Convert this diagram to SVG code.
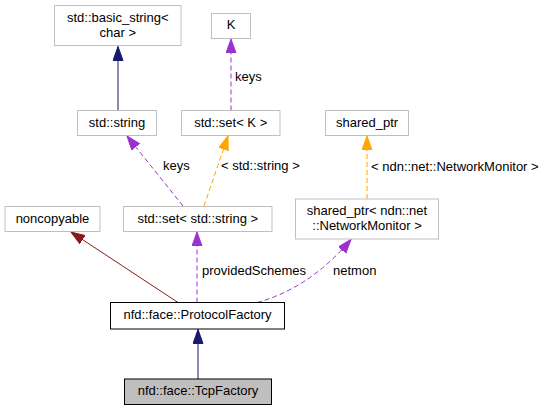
<svg xmlns="http://www.w3.org/2000/svg" width="549" height="411" viewBox="0 0 549 411">
<style>
text{font-family:"Liberation Sans",Arial,sans-serif;font-size:13px;fill:#000}
.n rect{fill:#fff;stroke:#bfbfbf;stroke-width:1}
.n text{text-anchor:middle}
.e{fill:none;stroke-width:1}
.nv{stroke:#191970}
.dr{stroke:#8b1a1a}
.pu{stroke:#9a32cd;stroke-dasharray:5,3}
.or{stroke:#ffa500;stroke-dasharray:5,3}
</style>
<defs>
<marker id="aNv" markerUnits="userSpaceOnUse" markerWidth="16" markerHeight="12" refX="14" refY="5" orient="auto"><path d="M0,0 L14,5 L0,10 Z" fill="#191970" stroke="#191970"/></marker>
<marker id="aDr" markerUnits="userSpaceOnUse" markerWidth="16" markerHeight="12" refX="14" refY="5" orient="auto"><path d="M0,0 L14,5 L0,10 Z" fill="#8b1a1a" stroke="#8b1a1a"/></marker>
<marker id="aPu" markerUnits="userSpaceOnUse" markerWidth="16" markerHeight="12" refX="14" refY="5" orient="auto"><path d="M0,0 L14,5 L0,10 Z" fill="#9a32cd" stroke="#9a32cd"/></marker>
<marker id="aOr" markerUnits="userSpaceOnUse" markerWidth="16" markerHeight="12" refX="14" refY="5" orient="auto"><path d="M0,0 L14,5 L0,10 Z" fill="#ffa500" stroke="#ffa500"/></marker>
</defs>
<rect width="549" height="411" fill="#fff"/>
<g id="edges">
<path class="e nv" d="M118,110.5 L118,46.5" marker-end="url(#aNv)"/>
<path class="e pu" d="M231,110.5 L231,39" marker-end="url(#aPu)"/>
<path class="e pu" d="M183,206 L127,136" marker-end="url(#aPu)"/>
<g><path class="e or" d="M204,206 L228,136" marker-end="url(#aOr)"/></g>
<path class="e or" d="M367,199 L367,136" marker-end="url(#aOr)"/>
<path class="e dr" d="M178,302.5 L71,232" marker-end="url(#aDr)"/>
<path class="e pu" d="M197,302.5 L197,232" marker-end="url(#aPu)"/>
<path class="e pu" d="M257,302.5 Q310,288 351,239.5" marker-end="url(#aPu)"/>
<path class="e nv" d="M198,379 L198,329.5" marker-end="url(#aNv)"/>
<text x="235" y="80.5">keys</text>
<text x="163" y="170">keys</text>
<text x="221" y="170">&lt; std::string &gt;</text>
<text x="371" y="171">&lt; ndn::net::NetworkMonitor &gt;</text>
<text x="202" y="275">providedSchemes</text>
<text x="333" y="275">netmon</text>
</g>
<g id="basic_string" class="n"><rect x="54.5" y="5.5" width="126.5" height="40"/><text x="117.75" y="21.5">std::basic_string&lt;</text><text x="117.75" y="36.5">char &gt;</text></g>
<g id="K" class="n"><rect x="211.5" y="13.5" width="39" height="25"/><text x="231" y="29">K</text></g>
<g id="std_string" class="n"><rect x="77.5" y="110.5" width="79" height="25"/><text x="117" y="126.5">std::string</text></g>
<g id="set_K" class="n"><rect x="181.5" y="110.5" width="98.5" height="25"/><text x="230.75" y="126.5">std::set&lt; K &gt;</text></g>
<g id="shared_ptr" class="n"><rect x="325.5" y="110.5" width="83" height="25"/><text x="367" y="126.5">shared_ptr</text></g>
<g id="noncopyable" class="n"><rect x="5" y="206.5" width="95" height="25"/><text x="52.5" y="222.5">noncopyable</text></g>
<g id="set_string" class="n"><rect x="123.5" y="206.5" width="148.5" height="25"/><text x="197.75" y="222.5">std::set&lt; std::string &gt;</text></g>
<g id="shared_ptr_nm" class="n"><rect x="295.5" y="199" width="143" height="40"/><text x="367" y="214.5">shared_ptr&lt; ndn::net</text><text x="367" y="229.5">::NetworkMonitor &gt;</text></g>
<g id="ProtocolFactory" class="n"><rect x="110.5" y="302.5" width="174" height="26.5" style="stroke:#000"/><text x="197.5" y="318.5">nfd::face::ProtocolFactory</text></g>
<g id="TcpFactory" class="n"><rect x="124.5" y="379" width="147" height="25.5" style="fill:#bfbfbf;stroke:#000"/><text x="198" y="394.5">nfd::face::TcpFactory</text></g>
</svg>
